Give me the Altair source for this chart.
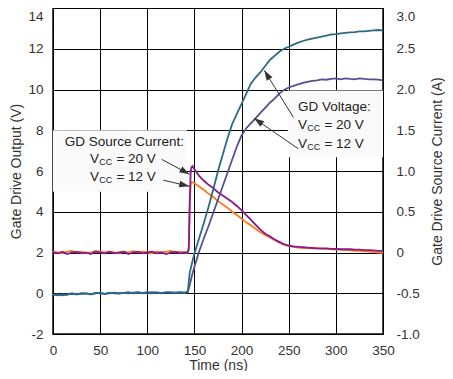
import altair as alt
import pandas as pd

# ---------------- data ----------------
# Gate drive output voltage (V)
t_volt = [0, 5, 10, 15, 20, 25, 30, 35, 40, 45, 50, 55, 60, 65, 70, 75, 80, 85, 90, 95,
          100, 105, 110, 115, 120, 125, 130, 135, 140, 143, 145, 147,
          150, 155, 160, 165, 170, 175, 180, 185, 190, 195, 200, 205, 210, 215, 220, 225,
          230, 235, 240, 245, 250, 255, 260, 265, 270, 275, 280, 285, 290, 295, 300, 305,
          310, 315, 320, 325, 330, 335, 340, 345, 350]
v_vcc20 = [-0.05, -0.1, -0.05, -0.08, 0.0, -0.05, -0.03, 0.0, -0.05, 0.02, 0.0, -0.03, 0.03, 0.0,
           -0.02, 0.02, 0.0, 0.03, 0.05, 0.0, 0.02, 0.05, 0.03, 0.0, 0.05, 0.02, 0.04, 0.05, 0.03,
           0.1, 1.0, 1.4,
           1.95, 2.7, 3.45, 4.25, 5.1, 6.0, 6.8, 7.6, 8.3, 8.8, 9.3, 9.8, 10.3, 10.6, 10.85, 11.15,
           11.45, 11.65, 11.85, 12.0, 12.1, 12.2, 12.3, 12.38, 12.45, 12.5, 12.55, 12.6, 12.65, 12.7,
           12.72, 12.75, 12.78, 12.8, 12.82, 12.85, 12.85, 12.88, 12.9, 12.92, 12.9]
v_vcc12 = [-0.08, -0.05, -0.1, -0.05, -0.03, -0.05, 0.0, -0.02, -0.05, 0.0, 0.02, -0.03, 0.0, 0.03,
           0.0, 0.02, 0.05, 0.0, 0.03, 0.02, 0.05, 0.0, 0.04, 0.02, 0.03, 0.05, 0.0, 0.03, 0.02,
           0.05, 0.4, 0.8,
           1.3, 2.05, 2.7, 3.3, 3.95, 4.6, 5.25, 5.9, 6.55, 7.2, 7.75, 8.1, 8.35, 8.6, 8.85, 9.1,
           9.35, 9.55, 9.8, 9.98, 10.1, 10.18, 10.25, 10.32, 10.38, 10.42, 10.45, 10.5, 10.48, 10.52,
           10.55, 10.5, 10.55, 10.52, 10.5, 10.55, 10.52, 10.5, 10.5, 10.48, 10.45]

# Gate drive source current (A)
t_curr = [0, 5, 10, 15, 20, 25, 30, 35, 40, 45, 50, 55, 60, 65, 70, 75, 80, 85, 90, 95,
          100, 105, 110, 115, 120, 125, 130, 135, 140, 143, 144, 145, 146, 147, 148, 150,
          155, 160, 165, 170, 175, 180, 185, 190, 195, 200, 205, 210, 215, 220, 225,
          230, 235, 240, 245, 250, 255, 260, 265, 270, 275, 280, 285, 290, 295, 300, 305,
          310, 315, 320, 325, 330, 335, 340, 345, 350]
i_vcc20 = [0.0, -0.01, 0.01, -0.02, 0.0, 0.01, -0.01, 0.0, -0.02, 0.01, 0.0, -0.01, 0.01, -0.01,
           0.0, 0.01, -0.02, 0.0, 0.01, -0.01, 0.0, 0.01, -0.01, 0.0, -0.02, 0.0, 0.01, -0.01, 0.0,
           0.0, 0.05, 0.6, 0.98, 1.05, 1.06, 1.02,
           0.94, 0.88, 0.83, 0.79, 0.74, 0.70, 0.66, 0.62, 0.57, 0.52, 0.46, 0.40, 0.34, 0.28, 0.23,
           0.20, 0.16, 0.13, 0.10, 0.085, 0.075, 0.07, 0.065, 0.06, 0.055, 0.05, 0.05, 0.05, 0.045,
           0.045, 0.04, 0.04, 0.04, 0.035, 0.035, 0.03, 0.03, 0.025, 0.02, 0.02]
i_vcc12 = [0.01, 0.0, -0.01, 0.01, 0.02, 0.0, 0.01, -0.01, 0.0, 0.02, 0.01, 0.0, 0.01, 0.0,
           -0.01, 0.01, 0.0, 0.02, 0.0, 0.01, 0.0, -0.01, 0.01, 0.0, 0.01, 0.02, 0.0, 0.01, 0.0,
           0.0, 0.05, 0.55, 0.84, 0.86, 0.86, 0.85,
           0.81, 0.77, 0.72, 0.68, 0.63, 0.59, 0.55, 0.50, 0.46, 0.415, 0.37, 0.33, 0.29, 0.25, 0.215,
           0.185, 0.155, 0.12, 0.10, 0.08, 0.07, 0.06, 0.055, 0.055, 0.05, 0.05, 0.045, 0.045, 0.04,
           0.035, 0.035, 0.03, 0.025, 0.02, 0.02, 0.015, 0.01, 0.005, 0.0, -0.005]

x_ticks = [0, 50, 100, 150, 200, 250, 300, 350]
v_ticks = [-2, 0, 2, 4, 6, 8, 10, 12, 14]
a_ticks = [-1.0, -0.5, 0, 0.5, 1.0, 1.5, 2.0, 2.5, 3.0]

# annotations (time ns, voltage V)
box_t1 = [0, 249]
box_t2 = [142, 350]
box_v1 = [8.0, 9.95]
box_v2 = [4.98, 6.68]

head1_text = ["GD Source Current:"]
head1_t = [75.8]
head1_v = [7.42]
head2_text = ["GD Voltage:"]
head2_t = [259.8]
head2_v = [9.12]

vcc_t = [39.2, 39.2, 259.8, 259.8]
vcc_v = [6.59, 5.71, 8.24, 7.34]
vcc_val = ["= 20 V", "= 12 V", "= 20 V", "= 12 V"]

arr_t1 = [115.3, 117.0, 255.0, 260.2]
arr_v1 = [6.57, 5.55, 8.63, 7.09]
arr_t2 = [144.8, 144.6, 224.1, 213.2]
arr_v2 = [5.84, 5.25, 10.94, 8.59]
arr_ang = [118.8, 103.0, 328.5, 304.7]

# ---------------- chart ----------------
FONT = "Liberation Sans"
TXT = "#333333"
ANN = "#222222"
W, H = 330, 326

df_v = pd.DataFrame({"t": t_volt, "v20": v_vcc20, "v12": v_vcc12})
df_i = pd.DataFrame({"t": t_curr, "i20": i_vcc20, "i12": i_vcc12})
df_box = pd.DataFrame({"t1": box_t1, "t2": box_t2, "v1": box_v1, "v2": box_v2})
df_head1 = pd.DataFrame({"txt": head1_text, "t": head1_t, "v": head1_v})
df_head2 = pd.DataFrame({"txt": head2_text, "t": head2_t, "v": head2_v})
df_vcc = pd.DataFrame({"t": vcc_t, "v": vcc_v, "val": vcc_val})
df_arr = pd.DataFrame({"t1": arr_t1, "v1": arr_v1, "t2": arr_t2, "v2": arr_v2, "ang": arr_ang})

xs = alt.Scale(domain=[0, 350], nice=False, zero=False)
vs = alt.Scale(domain=[-2, 14], nice=False, zero=False)
as_ = alt.Scale(domain=[-1, 3], nice=False, zero=False)

x_axis = alt.Axis(values=x_ticks, title="Time (ns)", grid=True, gridColor="black", gridWidth=1,
                  gridOpacity=1, domain=False, ticks=False, labelPadding=9, labelFlush=False,
                  labelOverlap=False, titleX=W / 2, titleY=31, titleBaseline="middle",
                  titleAlign="center", orient="bottom")
v_axis = alt.Axis(values=v_ticks, title="Gate Drive Output (V)", grid=True, gridColor="black",
                  gridWidth=1, gridOpacity=1, domain=False, ticks=False, labelPadding=10,
                  labelFlush=False, labelOverlap=False,
                  labelOffset={"condition": {"test": "datum.value == 14", "value": 8}, "value": 0},
                  labelExpr="datum.value < 0 ? '-' + abs(datum.value) : '' + datum.value",
                  titleAngle=270, titleX=-37, titleY=H / 2,
                  titleAlign="center", titleBaseline="middle", orient="left")
a_axis = alt.Axis(values=a_ticks, orient="right", title="Gate Drive Source Current (A)", grid=False,
                  domain=False, ticks=False, labelPadding=13, labelFlush=False, labelOverlap=False,
                  labelAlign="left",
                  labelOffset={"condition": {"test": "datum.value == 3", "value": 8}, "value": 0},
                  labelExpr="datum.value == 0 ? '0' : (datum.value < 0 ? '-' : '') + format(abs(datum.value), '.1f')",
                  titleAngle=270, titleX=54, titleY=H / 2, titleAlign="center",
                  titleBaseline="middle")


def X(field):
    return alt.X(field, scale=xs, axis=x_axis)


def YV(field, axis=None):
    return alt.Y(field, scale=vs, axis=axis)


boxes = alt.Chart(df_box).mark_rect(color="#fafafa", opacity=1).encode(
    x=X("t1:Q"), x2="t2:Q", y=YV("v1:Q", v_axis), y2="v2:Q")

line_v12 = alt.Chart(df_v).mark_line(color="#574f93", strokeWidth=1.8).encode(
    x=X("t:Q"), y=YV("v12:Q"))
line_v20 = alt.Chart(df_v).mark_line(color="#2c6a87", strokeWidth=1.8).encode(
    x=X("t:Q"), y=YV("v20:Q"))

line_i12 = alt.Chart(df_i).mark_line(color="#ff7a1a", strokeWidth=1.8).encode(
    x=X("t:Q"), y=alt.Y("i12:Q", scale=as_, axis=a_axis))
line_i20 = alt.Chart(df_i).mark_line(color="#8a1a8c", strokeWidth=1.8).encode(
    x=X("t:Q"), y=alt.Y("i20:Q", scale=as_, axis=None))

head1 = alt.Chart(df_head1).mark_text(fontSize=13.5, color=ANN, align="center",
                                      baseline="middle").encode(
    x=X("t:Q"), y=YV("v:Q"), text="txt:N")
head2 = alt.Chart(df_head2).mark_text(fontSize=13.5, color=ANN, align="left",
                                      baseline="middle").encode(
    x=X("t:Q"), y=YV("v:Q"), text="txt:N")

vcc_V = alt.Chart(df_vcc).mark_text(fontSize=13.5, color=ANN, align="left",
                                    baseline="middle").encode(
    x=X("t:Q"), y=YV("v:Q"), text=alt.value("V"))
vcc_CC = alt.Chart(df_vcc).mark_text(fontSize=9, color=ANN, align="left",
                                     baseline="middle", dx=9.3, dy=3).encode(
    x=X("t:Q"), y=YV("v:Q"), text=alt.value("CC"))
vcc_rest = alt.Chart(df_vcc).mark_text(fontSize=13.5, color=ANN, align="left",
                                       baseline="middle", dx=26.5).encode(
    x=X("t:Q"), y=YV("v:Q"), text="val:N")

arr_lines = alt.Chart(df_arr).mark_rule(color="#333333", strokeWidth=1).encode(
    x=X("t1:Q"), x2="t2:Q", y=YV("v1:Q"), y2="v2:Q")
arr_heads = alt.Chart(df_arr).mark_point(
    shape="M0,0L0.42,1.25L-0.42,1.25Z", filled=True, size=260, color="#333333",
    opacity=1, strokeWidth=0).encode(
    x=X("t2:Q"), y=YV("v2:Q"), angle=alt.Angle("ang:Q", scale=None))

chart = alt.layer(
    boxes, line_i12, line_i20, line_v12, line_v20,
    head1, head2, vcc_V, vcc_CC, vcc_rest, arr_lines, arr_heads,
).resolve_scale(y="independent").properties(
    width=W, height=H,
    autosize=alt.AutoSizeParams(type="none"),
    padding={"left": 45, "top": 0, "right": 62, "bottom": 37},
).configure_view(stroke="#4a4a4a", strokeWidth=2).configure_axis(
    labelFont=FONT, labelFontSize=13.5, labelColor=TXT,
    titleFont=FONT, titleFontSize=14, titleFontWeight="normal", titleColor=TXT,
).configure_text(font=FONT)

chart.save("out.html", embed_options={"renderer": "svg", "actions": False})
